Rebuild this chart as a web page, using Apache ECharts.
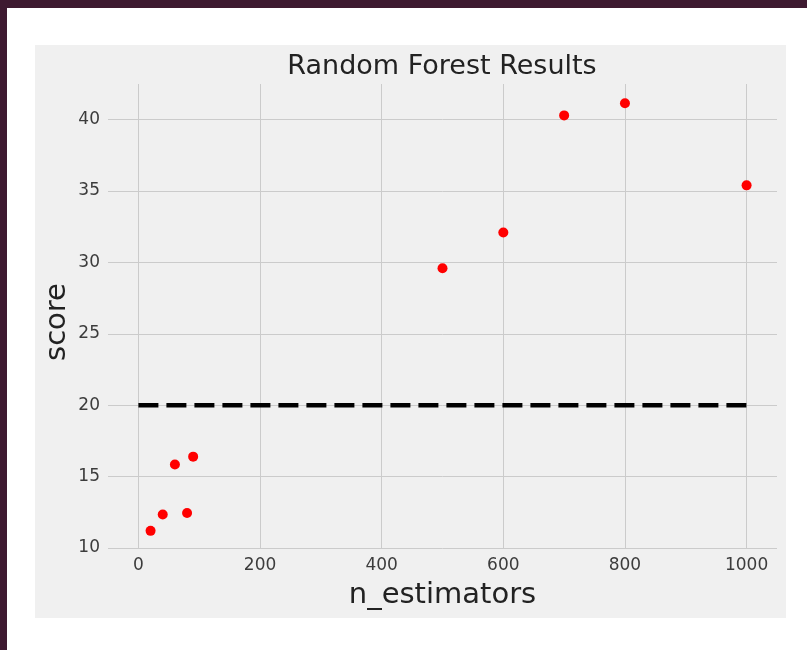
<!DOCTYPE html>
<html>
<head>
<meta charset="utf-8">
<script src="https://cdn.jsdelivr.net/npm/echarts@6/dist/echarts.min.js"></script>
<style>
html,body{margin:0;padding:0;background:#ffffff;}
#chart{width:807px;height:650px;}
</style>
</head>
<body>
<div id="chart"></div>
<script>
const nEstimators = [20, 40, 60, 80, 90, 500, 600, 700, 800, 1000];
const scores = [11.2, 12.35, 15.85, 12.45, 16.4, 29.6, 32.1, 40.3, 41.15, 35.4];
const baselineX = [0, 1000];
const baselineY = [20, 20];
const xTicks = [0, 200, 400, 600, 800, 1000];
const yTicks = [10, 15, 20, 25, 30, 35, 40];

const chart = echarts.init(document.getElementById('chart'), null, {renderer: 'canvas'});
const font = 'DejaVu Sans';
chart.setOption({
  backgroundColor: '#ffffff',
  animation: false,
  graphic: [
    {type: 'rect', shape: {x: 0, y: 0, width: 807, height: 8}, style: {fill: '#3e1a30'}, z: -10},
    {type: 'rect', shape: {x: 0, y: 0, width: 7, height: 650}, style: {fill: '#3e1a30'}, z: -10},
    {type: 'rect', shape: {x: 35, y: 45, width: 751, height: 573}, style: {fill: '#f0f0f0'}, z: -10}
  ],
  title: {
    text: 'Random Forest Results',
    left: 442, top: 53, textAlign: 'center', padding: 0,
    textStyle: {fontFamily: font, fontSize: 27, fontWeight: 'normal', color: '#222222'}
  },
  grid: {left: 108, right: 30, top: 84, bottom: 102, containLabel: false},
  xAxis: {
    type: 'value', min: -50, max: 1050,
    name: 'n_estimators', nameLocation: 'middle', nameGap: 33,
    nameTextStyle: {fontFamily: font, fontSize: 29, color: '#222222'},
    axisLine: {show: false}, axisTick: {show: false},
    axisLabel: {
      fontFamily: font, fontSize: 17, color: '#3c3c3c', margin: 9,
      showMinLabel: false, showMaxLabel: false,
      formatter: v => xTicks.includes(v) ? String(v) : ''
    },
    splitLine: {show: true, showMinLine: false, showMaxLine: false, lineStyle: {color: '#cbcbcb', width: 1}}
  },
  yAxis: {
    type: 'value', min: 10, max: 42.5, interval: 5,
    name: 'score', nameLocation: 'middle', nameGap: 36, nameRotate: 90,
    nameMoveOverlap: false,
    nameTextStyle: {fontFamily: font, fontSize: 29, color: '#222222', padding: [0, 12, 0, 0]},
    axisLine: {show: false}, axisTick: {show: false},
    axisLabel: {
      fontFamily: font, fontSize: 17, color: '#3c3c3c', margin: 8,
      showMaxLabel: false,
      formatter: v => yTicks.includes(v) ? String(v) : ''
    },
    splitLine: {show: true, showMaxLine: false, lineStyle: {color: '#cbcbcb', width: 1}}
  },
  series: [
    {
      type: 'line',
      data: baselineX.map((x, i) => [x, baselineY[i]]),
      symbol: 'none',
      lineStyle: {color: '#000000', width: 4.5, type: [20, 8]},
      z: 2
    },
    {
      type: 'scatter',
      data: nEstimators.map((x, i) => [x, scores[i]]),
      symbolSize: 10,
      itemStyle: {color: '#ff0000', opacity: 1},
      z: 3
    }
  ]
});
</script>
</body>
</html>
